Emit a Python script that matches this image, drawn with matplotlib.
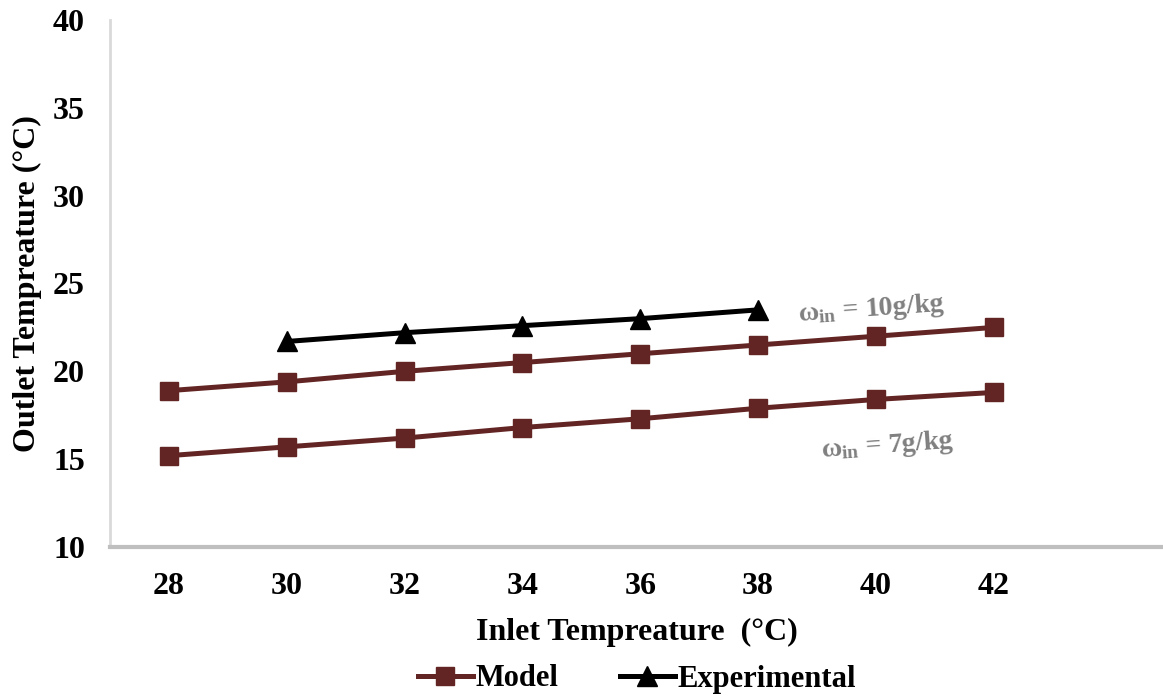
import matplotlib
matplotlib.use("Agg")
import matplotlib.pyplot as plt
from matplotlib.lines import Line2D

plt.rcParams["font.family"] = ["Liberation Serif", "DejaVu Serif"]
plt.rcParams["mathtext.fontset"] = "custom"
plt.rcParams["mathtext.rm"] = "Liberation Serif:bold"
plt.rcParams["mathtext.bf"] = "Liberation Serif:bold"
plt.rcParams["mathtext.it"] = "Liberation Serif:bold"

# Data
inlet_model = [28, 30, 32, 34, 36, 38, 40, 42]
outlet_model_10 = [18.9, 19.4, 20.0, 20.5, 21.0, 21.5, 22.0, 22.5]
outlet_model_7 = [15.2, 15.7, 16.2, 16.8, 17.3, 17.9, 18.4, 18.8]
inlet_exp = [30, 32, 34, 36, 38]
outlet_exp = [21.7, 22.2, 22.6, 23.0, 23.5]
x_ticks = [28, 30, 32, 34, 36, 38, 40, 42]
y_ticks = [10, 15, 20, 25, 30, 35, 40]

model_color = "#632523"
W, H = 1163, 698
fig = plt.figure(figsize=(W / 100, H / 100), dpi=100)
ax = fig.add_axes([110 / W, 1 - 547 / H, (W - 110) / W, (547 - 20) / H])

ax.plot(inlet_model, outlet_model_10, color=model_color, lw=3.6, marker="s",
        ms=13, solid_capstyle="butt", zorder=3)
ax.plot(inlet_model, outlet_model_7, color=model_color, lw=3.6, marker="s",
        ms=13, solid_capstyle="butt", zorder=3)
ax.plot(inlet_exp, outlet_exp, color="black", lw=3.6, marker="^",
        ms=14, solid_capstyle="butt", zorder=4)

ax.set_xlim(27.0, 44.87)
ax.set_ylim(10, 40)
ax.set_xticks(x_ticks)
ax.set_yticks(y_ticks)
ax.tick_params(length=0, labelsize=23, pad=18)
for lab in ax.get_xticklabels() + ax.get_yticklabels():
    lab.set_fontweight("bold")

for s in ["top", "right"]:
    ax.spines[s].set_visible(False)
ax.spines["left"].set_color("#d9d9d9")
ax.spines["left"].set_linewidth(2)
ax.spines["bottom"].set_color("#bfbfbf")
ax.spines["bottom"].set_linewidth(3)

ax.set_xlabel("Inlet Tempreature  (°C)", fontsize=23, fontweight="bold", labelpad=12)
ax.set_ylabel("Outlet Tempreature (°C)", fontsize=23, fontweight="bold", labelpad=8)

ax.text(38.65, 23.55, r"ω$_{\mathbf{in}}$ = 10g/kg", color="#808080", fontsize=20,
        fontweight="bold", rotation=4, ha="left", va="center")
ax.text(39.05, 15.75, r"ω$_{\mathbf{in}}$ = 7g/kg", color="#808080", fontsize=20,
        fontweight="bold", rotation=4, ha="left", va="center")

handles = [
    Line2D([], [], color=model_color, lw=3.6, marker="s", ms=13),
    Line2D([], [], color="black", lw=3.6, marker="^", ms=14),
]
fig.legend(handles, ["Model", "Experimental"], loc="center",
           bbox_to_anchor=(637 / W, 1 - 679 / H), ncol=2, frameon=False,
           prop={"size": 22, "weight": "bold"}, handlelength=1.8,
           handletextpad=0.1, columnspacing=2.0)

fig.savefig("out.png", dpi=100)
